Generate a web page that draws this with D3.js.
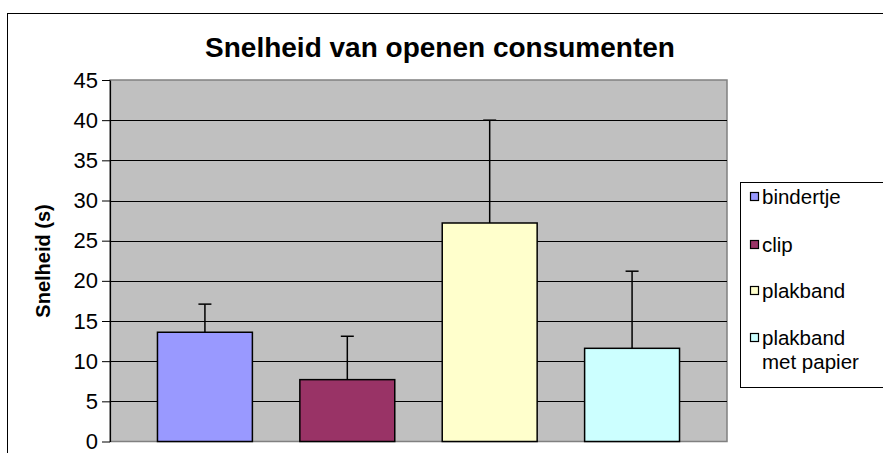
<!DOCTYPE html>
<html>
<head>
<meta charset="utf-8">
<script src="https://cdn.jsdelivr.net/npm/d3@7"></script>
<style>
  body { margin: 0; background: #fff; }
  svg { display: block; font-family: Arial, "Liberation Sans", sans-serif; }
</style>
</head>
<body>
<svg id="chart" width="883" height="453"></svg>
<script>
// chart data
const series = ["bindertje", "clip", "plakband", "plakband met papier"];
const means = [13.6, 7.7, 27.2, 11.6];
const errors = [3.5, 5.4, 12.8, 9.6];
const colors = ["#9999FF", "#993366", "#FFFFCC", "#CCFFFF"];
const yTicks = [0, 5, 10, 15, 20, 25, 30, 35, 40, 45];

const svg = d3.select("#chart");

// outer chart frame
svg.append("rect")
    .attr("x", 7.5).attr("y", 13.5)
    .attr("width", 900).attr("height", 460)
    .attr("fill", "#fff").attr("stroke", "#000").attr("stroke-width", 1);

const plot = { left: 110, right: 727, top: 80, bottom: 441.5 };

const y = d3.scaleLinear().domain([0, 45]).range([plot.bottom, plot.top]);
const x = d3.scaleBand().domain(series)
    .range([plot.left, plot.right])
    .paddingInner(1 / 3).paddingOuter(1 / 3);

// plot background
svg.append("rect")
    .attr("x", plot.left).attr("y", plot.top)
    .attr("width", plot.right - plot.left).attr("height", plot.bottom - plot.top)
    .attr("fill", "#C0C0C0").attr("stroke", "#808080").attr("stroke-width", 1.5);

// gridlines
svg.append("g").selectAll("line")
    .data(yTicks.filter(d => d > 0 && d < 45))
    .join("line")
    .attr("x1", plot.left).attr("x2", plot.right)
    .attr("y1", d => Math.round(y(d)) + 0.5).attr("y2", d => Math.round(y(d)) + 0.5)
    .attr("stroke", "#000").attr("stroke-width", 1.2);

// y axis
const yAxis = svg.append("g")
    .attr("transform", `translate(${plot.left},0)`)
    .call(d3.axisLeft(y).tickValues(yTicks).tickSize(8).tickPadding(4).tickSizeOuter(0));
yAxis.select(".domain").attr("stroke", "#000").attr("stroke-width", 1.2);
yAxis.selectAll(".tick line").attr("stroke", "#000");
yAxis.selectAll(".tick text")
    .attr("font-size", "22px").attr("fill", "#000")
    .attr("font-family", "Arial, 'Liberation Sans', sans-serif");

// error bars (drawn before bars so the lower half is covered)
const err = svg.append("g");
series.forEach((s, i) => {
  const cx = x(s) + x.bandwidth() / 2;
  err.append("line")
      .attr("x1", cx).attr("x2", cx)
      .attr("y1", y(means[i])).attr("y2", y(means[i] + errors[i]))
      .attr("stroke", "#000").attr("stroke-width", 1.5);
  err.append("line")
      .attr("x1", cx - 6.5).attr("x2", cx + 6.5)
      .attr("y1", y(means[i] + errors[i])).attr("y2", y(means[i] + errors[i]))
      .attr("stroke", "#000").attr("stroke-width", 1.5);
});

// bars
svg.append("g").selectAll("rect")
    .data(series)
    .join("rect")
    .attr("x", d => x(d))
    .attr("y", (d, i) => y(means[i]))
    .attr("width", x.bandwidth())
    .attr("height", (d, i) => plot.bottom - y(means[i]))
    .attr("fill", (d, i) => colors[i])
    .attr("stroke", "#000").attr("stroke-width", 1.5);

// title
svg.append("text")
    .attr("x", 440).attr("y", 57)
    .attr("text-anchor", "middle")
    .attr("font-size", "28px").attr("font-weight", "bold")
    .text("Snelheid van openen consumenten");

// y axis label
svg.append("text")
    .attr("transform", "translate(50,261) rotate(-90)")
    .attr("text-anchor", "middle")
    .attr("font-size", "20px").attr("font-weight", "bold")
    .text("Snelheid (s)");

// legend
const legend = svg.append("g");
legend.append("rect")
    .attr("x", 740.5).attr("y", 182.5)
    .attr("width", 160).attr("height", 205)
    .attr("fill", "#fff").attr("stroke", "#000").attr("stroke-width", 1);

const legendLines = [["bindertje"], ["clip"], ["plakband"], ["plakband", "met papier"]];
const legendY = [197, 245, 291, 338];
legendLines.forEach((lines, i) => {
  legend.append("rect")
      .attr("x", 750.5).attr("y", legendY[i] - 4.5)
      .attr("width", 8).attr("height", 8)
      .attr("fill", colors[i]).attr("stroke", "#000").attr("stroke-width", 1.2);
  const t = legend.append("text")
      .attr("x", 762).attr("y", legendY[i] + 7)
      .attr("font-size", "20.5px");
  lines.forEach((ln, j) => {
    t.append("tspan").attr("x", 762).attr("dy", j === 0 ? 0 : 24).text(ln);
  });
});
</script>
</body>
</html>
